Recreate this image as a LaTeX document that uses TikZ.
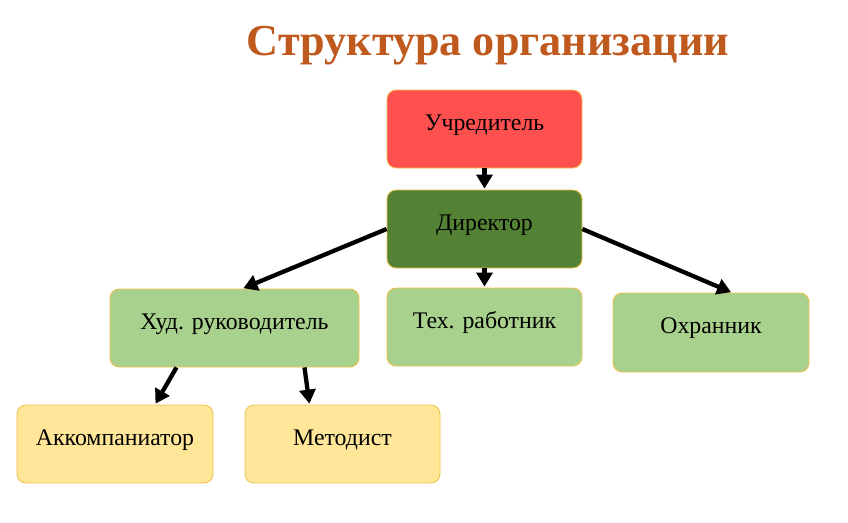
\documentclass[tikz,border=0pt]{standalone}
\usepackage{fontspec}
\setmainfont{Liberation Serif}
\usetikzlibrary{arrows.meta}
\definecolor{titlec}{HTML}{C0591E}
\definecolor{redc}{HTML}{FF5050}
\definecolor{dgreen}{HTML}{548235}
\definecolor{lgreen}{HTML}{A9D18E}
\definecolor{ylw}{HTML}{FFE699}
\definecolor{bord}{HTML}{F2C04A}
\tikzset{
  box/.style={draw=bord, line width=0.8pt, rounded corners=9pt, minimum width=195pt, minimum height=78pt,
    inner sep=0pt, font=\fontsize{23.8}{28}\selectfont, text height=16pt, text depth=14pt},
  arr/.style={line width=4.3pt, -{Triangle[length=14pt,width=16pt]}, shorten >=1pt}
}
\begin{document}
\begin{tikzpicture}[x=1pt,y=-1pt]
\useasboundingbox (0,0) rectangle (848,522);
\fill[white] (0,0) rectangle (848,522);
\node[text=titlec, font=\fontsize{44.2}{52}\selectfont\bfseries] (title) at (488,46) {Структура организации};
\node[box, fill=redc] (uch) at (484.5,129) {Учредитель};
\node[box, fill=dgreen] (dir) at (484.5,229) {Директор};
\node[box, fill=lgreen, minimum width=249pt] (hud) at (234.5,328) {Худ. руководитель};
\node[box, fill=lgreen] (teh) at (484.5,327) {Тех. работник};
\node[box, fill=lgreen, minimum width=196pt, minimum height=79pt] (ohr) at (711,332.5) {Охранник};
\node[box, fill=ylw, minimum width=196pt] (akk) at (115,444) {Аккомпаниатор};
\node[box, fill=ylw] (met) at (342.5,444) {Методист};
\draw[arr] (uch.south) -- (dir.north);
\draw[arr] (dir.south) -- (teh.north);
\draw[arr] (dir.west) -- ([xshift=8pt]hud.north);
\draw[arr] (dir.east) -- ([xshift=21pt]ohr.north);
\draw[arr] ([xshift=-58pt]hud.south) -- ([xshift=40pt]akk.north);
\draw[arr] ([xshift=70pt]hud.south) -- ([xshift=-33pt]met.north);
\end{tikzpicture}
\end{document}
